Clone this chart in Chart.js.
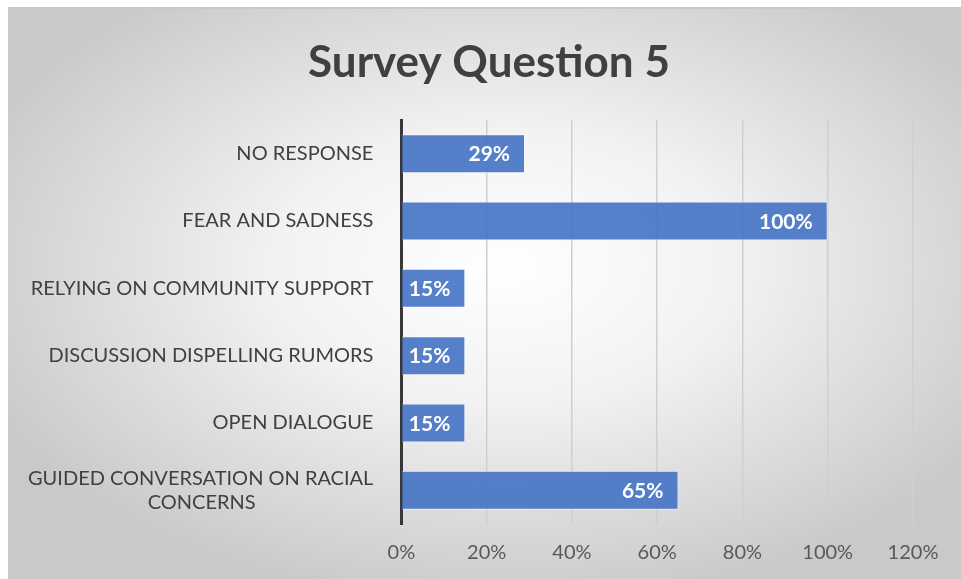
<!DOCTYPE html>
<html>
<head>
<meta charset="utf-8">
<script src="https://cdn.jsdelivr.net/npm/chart.js@4.4.0/dist/chart.umd.min.js"></script>
<style>
body { margin: 0; background: #fff; }
#wrap { position: absolute; left: 8px; top: 7px; width: 953px; height: 570px; border-top: 2px solid #c9c9c9; }
</style>
</head>
<body>
<div id="wrap"><canvas id="myChartCanvas"></canvas></div>
<script>
var chart_title = 'Survey Question 5';
var categories = ['NO RESPONSE', 'FEAR AND SADNESS', 'RELYING ON COMMUNITY SUPPORT',
    'DISCUSSION DISPELLING RUMORS', 'OPEN DIALOGUE', ['GUIDED CONVERSATION ON RACIAL', 'CONCERNS']];
var percents = [29, 100, 15, 15, 15, 65];
var axis_max = 120;
var axis_step = 20;

var label_font = '20px Lato';

// centre the second line of a wrapped label under the first one
var measure_ctx = document.createElement('canvas').getContext('2d');
function pad_label(label) {
    if (!Array.isArray(label)) return label;
    measure_ctx.font = label_font;
    let w1 = measure_ctx.measureText(label[0]).width;
    let w2 = measure_ctx.measureText(label[1]).width;
    let sp = measure_ctx.measureText(' ').width;
    let n = Math.round((w1 - w2) / 2 / sp);
    return [label[0], label[1] + ' '.repeat(n)];
}

var background_plugin = {
    id: 'background_plugin',
    beforeDraw: function(chart) {
        let ctx = chart.ctx;
        let w = chart.width, h = chart.height;
        ctx.save();
        ctx.translate(w * 0.52, h * 0.45);
        ctx.scale(1, h / w);
        let g = ctx.createRadialGradient(0, 0, 0, 0, 0, w * 0.6);
        g.addColorStop(0, '#ffffff');
        g.addColorStop(0.4, '#f2f2f2');
        g.addColorStop(1, '#c9c9c9');
        ctx.fillStyle = g;
        ctx.fillRect(-w, -w, 2 * w, 2 * w);
        ctx.restore();
    }
};

// title sits over the middle of the whole box, slightly right of centre
var title_plugin = {
    id: 'title_plugin',
    afterDraw: function(chart) {
        let ctx = chart.ctx;
        ctx.save();
        ctx.font = 'bold 44px Lato';
        ctx.fillStyle = '#404040';
        ctx.textAlign = 'center';
        ctx.textBaseline = 'middle';
        ctx.fillText(chart_title, 481, 54);
        ctx.restore();
    }
};

var value_label_plugin = {
    id: 'value_label_plugin',
    afterDatasetsDraw: function(chart) {
        let ctx = chart.ctx;
        let meta = chart.getDatasetMeta(0);
        ctx.save();
        ctx.font = 'bold 21px Lato';
        ctx.fillStyle = '#ffffff';
        ctx.textAlign = 'right';
        ctx.textBaseline = 'middle';
        meta.data.forEach(function(bar, i) {
            ctx.fillText(percents[i] + '%', bar.x - 15, bar.y + 1);
        });
        ctx.restore();
    }
};

var bar_chart = new Chart(document.getElementById('myChartCanvas'), {
    type: 'bar',
    data: {
        labels: categories,
        datasets: [{
            data: percents,
            backgroundColor: 'rgba(68, 114, 196, 0.9)',
            borderColor: 'rgba(255, 255, 255, 0.6)',
            borderWidth: 1,
            barPercentage: 0.58,
            categoryPercentage: 1
        }]
    },
    options: {
        indexAxis: 'y',
        responsive: true,
        maintainAspectRatio: false,
        animation: false,
        layout: {
            padding: { top: 111, left: 0, right: 48, bottom: -3 }
        },
        scales: {
            x: {
                min: 0,
                max: axis_max,
                grid: {
                    color: '#cfcfcf',
                    lineWidth: 1.5,
                    drawTicks: false
                },
                border: { display: false },
                ticks: {
                    stepSize: axis_step,
                    padding: 17,
                    color: '#595959',
                    font: { family: 'Lato', size: 20 },
                    callback: function(value) { return value + '%'; }
                }
            },
            y: {
                grid: { display: false },
                border: { color: '#383838', width: 3 },
                ticks: {
                    padding: 20,
                    color: '#404040',
                    font: { family: 'Lato', size: 20 },
                    callback: function(value, index) { return pad_label(categories[index]); }
                }
            }
        },
        plugins: {
            legend: { display: false },
            tooltip: { enabled: false },
            title: { display: false }
        }
    },
    plugins: [background_plugin, value_label_plugin, title_plugin]
});
</script>
</body>
</html>
